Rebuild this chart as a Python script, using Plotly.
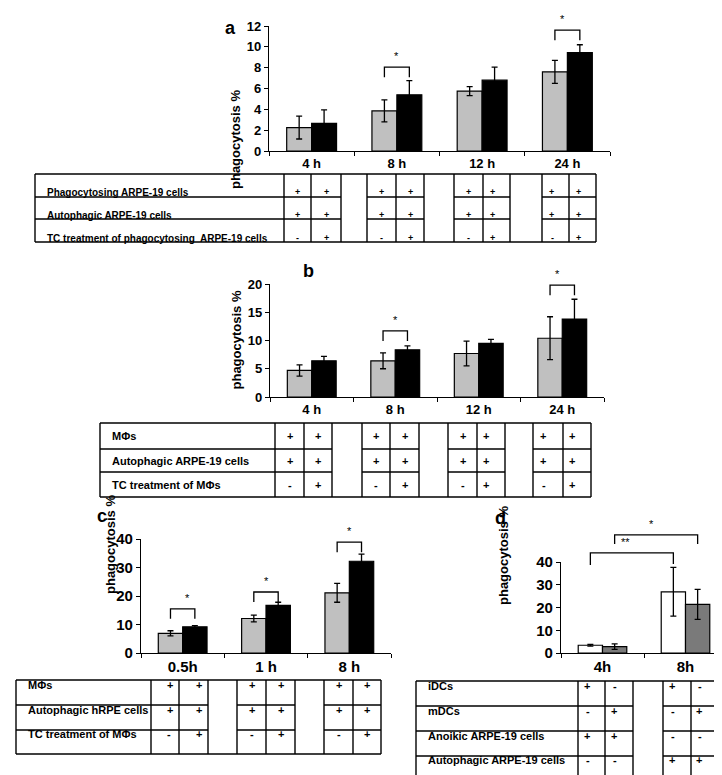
import plotly.graph_objects as go

W, H = 722, 775

# ---------------- data ----------------
a_times = ["4 h", "8 h", "12 h", "24 h"]
a_ctrl = [2.25, 3.85, 5.75, 7.6]
a_ctrl_err = [1.1, 1.05, 0.43, 1.1]
a_tc = [2.65, 5.4, 6.8, 9.45]
a_tc_err = [1.3, 1.35, 1.25, 0.75]
a_sig = [1, 3]
a_sig_y = [8.05, 11.6]

b_times = ["4 h", "8 h", "12 h", "24 h"]
b_ctrl = [4.7, 6.4, 7.7, 10.4]
b_ctrl_err = [1.0, 1.4, 2.2, 3.8]
b_tc = [6.4, 8.35, 9.5, 13.8]
b_tc_err = [0.8, 0.7, 0.7, 3.5]
b_sig = [1, 3]
b_sig_y = [11.7, 19.8]

c_times = ["0.5h", "1 h", "8 h"]
c_ctrl = [6.9, 12.1, 21.1]
c_ctrl_err = [0.9, 1.2, 3.3]
c_tc = [9.2, 16.7, 32.2]
c_tc_err = [0.4, 1.1, 2.5]
c_sig = [0, 1, 2]
c_sig_y = [15.5, 21.4, 38.9]

d_times = ["4h", "8h"]
d_idc = [3.4, 26.9]
d_idc_err = [0.4, 10.7]
d_mdc = [2.8, 21.4]
d_mdc_err = [1.2, 6.6]

a_rows = ["Phagocytosing ARPE-19 cells", "Autophagic ARPE-19 cells",
          "TC treatment of phagocytosing  ARPE-19 cells"]
a_cells = [["+", "+"], ["+", "+"], ["-", "+"]]
b_rows = ["MΦs", "Autophagic ARPE-19 cells", "TC treatment of MΦs"]
b_cells = [["+", "+"], ["+", "+"], ["-", "+"]]
c_rows = ["MΦs", "Autophagic hRPE cells", "TC treatment of MΦs"]
c_cells = [["+", "+"], ["+", "+"], ["-", "+"]]
d_rows = ["iDCs", "mDCs", "Anoikic ARPE-19 cells", "Autophagic ARPE-19 cells"]
d_cells_4h = [["+", "-"], ["-", "+"], ["+", "+"], ["-", "-"]]
d_cells_8h = [["+", "-"], ["-", "+"], ["-", "-"], ["+", "+"]]

# ---------------- geometry (pixels) ----------------
P = {
    "a": dict(x0=261, x1=602, ybot=143, ytop=18, ymax=12, dtick=2, n=4, fs=13),
    "b": dict(x0=262, x1=596, ybot=389, ytop=276, ymax=20, dtick=5, n=4, fs=13),
    "c": dict(x0=133, x1=383, ybot=645, ytop=531, ymax=40, dtick=10, n=3, fs=15),
    "d": dict(x0=553, x1=719, ybot=645, ytop=554, ymax=40, dtick=10, n=2, fs=15),
}
BARGAP = 0.415
OFF = (1 - BARGAP) / 4.0

def px(x):
    return x / W

def py(y):
    return 1 - y / H

def xpix(p, xv):
    g = P[p]
    return g["x0"] + (xv + 0.5) * (g["x1"] - g["x0"]) / g["n"]

def ypix(p, yv):
    g = P[p]
    return g["ybot"] - yv * (g["ybot"] - g["ytop"]) / g["ymax"]

fig = go.Figure()
shapes = []
annos = []

GRAY = "#c0c0c0"
BOLD = "Liberation Sans, Arial, sans-serif"
NARROW = "Liberation Sans Narrow, Arial Narrow, Liberation Sans, Arial, sans-serif"

def err(arr):
    return dict(type="data", array=arr, visible=True, color="black", thickness=1.3, width=3)

def add_bars(idx, cats, v1, e1, v2, e2, c1, c2):
    xa = "x" if idx == 1 else f"x{idx}"
    ya = "y" if idx == 1 else f"y{idx}"
    fig.add_trace(go.Bar(x=cats, y=v1, error_y=err(e1), marker=dict(color=c1, line=dict(color="black", width=1.2)),
                         xaxis=xa, yaxis=ya, showlegend=False, hoverinfo="skip"))
    fig.add_trace(go.Bar(x=cats, y=v2, error_y=err(e2), marker=dict(color=c2, line=dict(color="black", width=1.2)),
                         xaxis=xa, yaxis=ya, showlegend=False, hoverinfo="skip"))

add_bars(1, a_times, a_ctrl, a_ctrl_err, a_tc, a_tc_err, GRAY, "black")
add_bars(2, b_times, b_ctrl, b_ctrl_err, b_tc, b_tc_err, GRAY, "black")
add_bars(3, c_times, c_ctrl, c_ctrl_err, c_tc, c_tc_err, GRAY, "black")
add_bars(4, d_times, d_idc, d_idc_err, d_mdc, d_mdc_err, "white", "#7a7a7a")

layout_axes = {}
for i, key in enumerate(["a", "b", "c", "d"], start=1):
    g = P[key]
    xname = "xaxis" if i == 1 else f"xaxis{i}"
    yname = "yaxis" if i == 1 else f"yaxis{i}"
    yanchor = "y" if i == 1 else f"y{i}"
    xanchor = "x" if i == 1 else f"x{i}"
    layout_axes[xname] = dict(domain=[px(g["x0"]), px(g["x1"])], anchor=yanchor, range=[-0.5, g["n"] - 0.5],
                              showline=True, linecolor="black", linewidth=1.2, ticks="outside", ticklen=4,
                              tickwidth=1.2, tickcolor="black", tickson="boundaries", showgrid=False,
                              zeroline=False, fixedrange=True, automargin=False,
                              tickfont=dict(family=BOLD, size=g["fs"], color="black", weight="bold"))
    layout_axes[yname] = dict(domain=[py(g["ybot"]), py(g["ytop"])], anchor=xanchor, range=[0, g["ymax"]],
                              dtick=g["dtick"], showline=True, linecolor="black", linewidth=1.2,
                              ticks="outside", ticklen=4, tickwidth=1.2, tickcolor="black",
                              showgrid=False, zeroline=False, fixedrange=True, automargin=False,
                              tickfont=dict(family=BOLD, size=g["fs"], color="black", weight="bold"))

def line(x0, y0, x1, y1, w=1.3):
    shapes.append(dict(type="line", xref="paper", yref="paper", x0=px(x0), y0=py(y0), x1=px(x1), y1=py(y1),
                       line=dict(color="black", width=w)))

def bracket(xl, xr, ytop, dl, dr, text, fs=11):
    shapes.append(dict(type="path", xref="paper", yref="paper",
                       path=f"M {px(xl)},{py(ytop+dl)} L {px(xl)},{py(ytop)} L {px(xr)},{py(ytop)} L {px(xr)},{py(ytop+dr)}",
                       line=dict(color="black", width=1.3)))
    annos.append(dict(x=px((xl + xr) / 2), y=py(ytop - 3), xref="paper", yref="paper", text=text,
                      showarrow=False, yanchor="bottom", font=dict(family=BOLD, size=fs, color="black")))

for key, sig, sigy in [("a", a_sig, a_sig_y), ("b", b_sig, b_sig_y), ("c", c_sig, c_sig_y)]:
    for k, yv in zip(sig, sigy):
        bracket(xpix(key, k - OFF), xpix(key, k + OFF), ypix(key, yv), 10, 10, "*")

# panel d cross brackets
bracket(xpix("d", 0 - OFF), xpix("d", 1 - OFF), ypix("d", 44), 12, 11, "**")
bracket(xpix("d", 0 + OFF), xpix("d", 1 + OFF), ypix("d", 51.9), 9, 9, "*")

# panel letters and y titles
for key, lx, ly, tx, ty in [("a", 215, 8, 218, 80), ("b", 300, 263, 218, 332),
                            ("c", 87, 520, 93, 588), ("d", 500, 522, 505, 599)]:
    annos.append(dict(x=px(lx), y=py(ly), xref="paper", yref="paper", text=f"<b>{key}</b>", showarrow=False,
                      font=dict(family=BOLD, size=18, color="black")))
    annos.append(dict(x=px(tx), y=py(ty), xref="paper", yref="paper", text="<b>phagocytosis %</b>",
                      showarrow=False, textangle=-90, font=dict(family=BOLD, size=13, color="black")))

# ---------------- tables ----------------
def table(left, label_right, groups, rows_y, labels, cellvals, fs, sfs):
    right = groups[-1][2]
    line(left, rows_y[0], right, rows_y[0], 1.6)
    line(left, rows_y[-1], right, rows_y[-1], 1.6)
    for ry in rows_y[1:-1]:
        line(left, ry, label_right, ry)
        for gg in groups:
            line(gg[0], ry, gg[2], ry)
    xs = [left, label_right] + [e for gg in groups for e in gg]
    for xv in sorted(set(xs)):
        line(xv, rows_y[0], xv, rows_y[-1], 1.4)
    for r, lab in enumerate(labels):
        yc = (rows_y[r] + rows_y[r + 1]) / 2
        annos.append(dict(x=px(left + 10), y=py(yc), xref="paper", yref="paper", text=f"<b>{lab}</b>",
                          showarrow=False, xanchor="left", font=dict(family=NARROW, size=fs, color="black")))
        for gi, gg in enumerate(groups):
            vals = cellvals[gi][r]
            for ci in range(2):
                xc = (gg[ci] + gg[ci + 1]) / 2
                annos.append(dict(x=px(xc), y=py(yc), xref="paper", yref="paper", text=f"<b>{vals[ci]}</b>",
                                  showarrow=False, font=dict(family=BOLD, size=sfs, color="black")))

table(27, 276, [(276, 303, 333), (359, 388, 416), (446, 475, 502), (534, 561, 588)],
      [166, 189, 211, 234], a_rows, [a_cells] * 4, 10, 9)
table(92, 267, [(267, 296, 324), (354, 382, 411), (440, 469, 497), (525, 555, 583)],
      [415, 441, 464, 489], b_rows, [b_cells] * 4, 11, 11)
table(8, 143, [(143, 171, 200), (229, 258, 287), (316, 345, 373)],
      [672, 697, 722, 746], c_rows, [c_cells] * 3, 11, 11)
table(408, 570, [(570, 597, 625), (655, 683, 708)],
      [673, 698, 723, 748, 772], d_rows, [d_cells_4h, d_cells_8h], 11, 11)

fig.update_layout(width=W, height=H, margin=dict(l=0, r=0, t=0, b=0, pad=0), paper_bgcolor="white",
                  plot_bgcolor="white", barmode="group", bargap=BARGAP, bargroupgap=0, showlegend=False,
                  template="none", shapes=shapes, annotations=annos, **layout_axes)
fig.write_html("out.html")
